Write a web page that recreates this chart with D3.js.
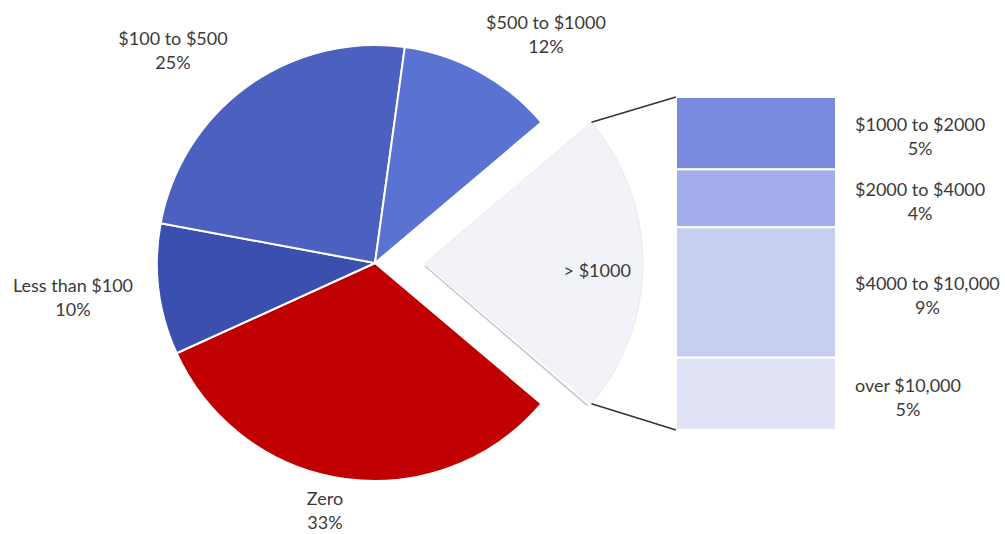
<!DOCTYPE html>
<html><head><meta charset="utf-8">
<script src="https://cdn.jsdelivr.net/npm/d3@7"></script>
<style>html,body{margin:0;padding:0;background:#fff;}svg{display:block;font-family:Lato,"Open Sans",sans-serif;}</style>
</head><body><svg id="c" width="1005" height="534"></svg>
<script>
// ---- data ----
const pieCategories = ["> $1000", "Zero", "Less than $100", "$100 to $500", "$500 to $1000"];
const pieValues = [23, 33, 10, 25, 12];
const pieLabels = ["> $1000", "33%", "10%", "25%", "12%"];
const barCategories = ["$1000 to $2000", "$2000 to $4000", "$4000 to $10,000", "over $10,000"];
const barValues = [5, 4, 9, 5];
const barLabels = ["5%", "4%", "9%", "5%"];

// ---- style / layout ----
const pieColors = ["#f1f3f8", "#c00000", "#3b4fae", "#4b60bf", "#5a73d3"];
const barColors = ["#7889de", "#a2acea", "#c8cef2", "#dfe3f5"];
const textColor = "#3a3a3a";
const fontSize = 18;
const cx = 375, cy = 263, R = 218, explode = 50;
const labelPos = {
  "Zero": [325, 498],
  "Less than $100": [73, 285],
  "$100 to $500": [173, 38],
  "$500 to $1000": [546, 22]
};

const svg = d3.select("#c");
const total = d3.sum(pieValues);
const firstSpan = pieValues[0] / total * 2 * Math.PI;
const pie = d3.pie().sort(null).value(d => d)
  .startAngle(Math.PI / 2 - firstSpan / 2)
  .endAngle(Math.PI / 2 - firstSpan / 2 + 2 * Math.PI);
const arcs = pie(pieValues);
const arc = d3.arc().innerRadius(0).outerRadius(R);

const g = svg.append("g");
arcs.forEach((a, i) => {
  const ox = i === 0 ? explode : 0;
  g.append("path")
    .attr("d", arc(a))
    .attr("transform", `translate(${cx + ox},${cy})`)
    .attr("fill", pieColors[i])
    .attr("stroke", i === 0 ? "#e8ebf0" : "#ffffff")
    .attr("stroke-width", i === 0 ? 1 : 2)
    .attr("stroke-linejoin", "round");
});

const a0 = arcs[0];
const ex = cx + explode;
const p1 = [ex + R * Math.sin(a0.startAngle), cy - R * Math.cos(a0.startAngle)];
const p2 = [ex + R * Math.sin(a0.endAngle), cy - R * Math.cos(a0.endAngle)];
// subtle shadow along lower straight edge of exploded slice
svg.append("line").attr("x1", ex).attr("y1", cy + 3).attr("x2", p2[0] - 4).attr("y2", p2[1] + 2)
  .attr("stroke", "#c3c7ce").attr("stroke-width", 1.5);

// Bar of pie
const barX = 676, barW = 160;
const y = d3.scaleLinear().domain([0, d3.sum(barValues)]).range([97, 430]);
const cum = d3.cumsum(barValues);
const starts = cum.map((c, i) => c - barValues[i]);
barValues.forEach((v, i) => {
  svg.append("rect")
    .attr("x", barX).attr("y", y(starts[i]))
    .attr("width", barW).attr("height", y(cum[i]) - y(starts[i]))
    .attr("fill", barColors[i])
    .attr("stroke", "#fff").attr("stroke-width", 2);
});

// connector lines
svg.append("line").attr("x1", p1[0]).attr("y1", p1[1]).attr("x2", barX).attr("y2", y(0))
  .attr("stroke", "#333").attr("stroke-width", 1.5);
svg.append("line").attr("x1", p2[0]).attr("y1", p2[1]).attr("x2", barX).attr("y2", y(d3.sum(barValues)))
  .attr("stroke", "#333").attr("stroke-width", 1.5);

function twoLine(x, yc, l1, l2) {
  const t = svg.append("g");
  t.append("text").attr("x", x).attr("y", yc).attr("text-anchor", "middle")
    .attr("dominant-baseline", "central").attr("fill", textColor).attr("font-size", fontSize).text(l1);
  t.append("text").attr("x", x).attr("y", yc + 24).attr("text-anchor", "middle")
    .attr("dominant-baseline", "central").attr("fill", textColor).attr("font-size", fontSize).text(l2);
}

// pie labels
pieCategories.forEach((c, i) => {
  if (i === 0) {
    const ang = (a0.startAngle + a0.endAngle) / 2;
    const lr = R * 0.79;
    svg.append("text").attr("x", ex + lr * Math.sin(ang)).attr("y", cy - lr * Math.cos(ang) + 7)
      .attr("text-anchor", "middle").attr("dominant-baseline", "central")
      .attr("fill", textColor).attr("font-size", fontSize).text(pieLabels[0]);
  } else {
    const p = labelPos[c];
    twoLine(p[0], p[1], c, pieLabels[i]);
  }
});

// bar labels: block left edge at fixed x, lines centered within block
const labLeft = 855;
barCategories.forEach((c, i) => {
  const mid = (y(starts[i]) + y(cum[i])) / 2;
  const tmp = svg.append("text").attr("font-size", fontSize).text(c);
  const w = tmp.node().getComputedTextLength();
  tmp.remove();
  twoLine(labLeft + w / 2, mid - 9, c, barLabels[i]);
});
</script></body></html>
